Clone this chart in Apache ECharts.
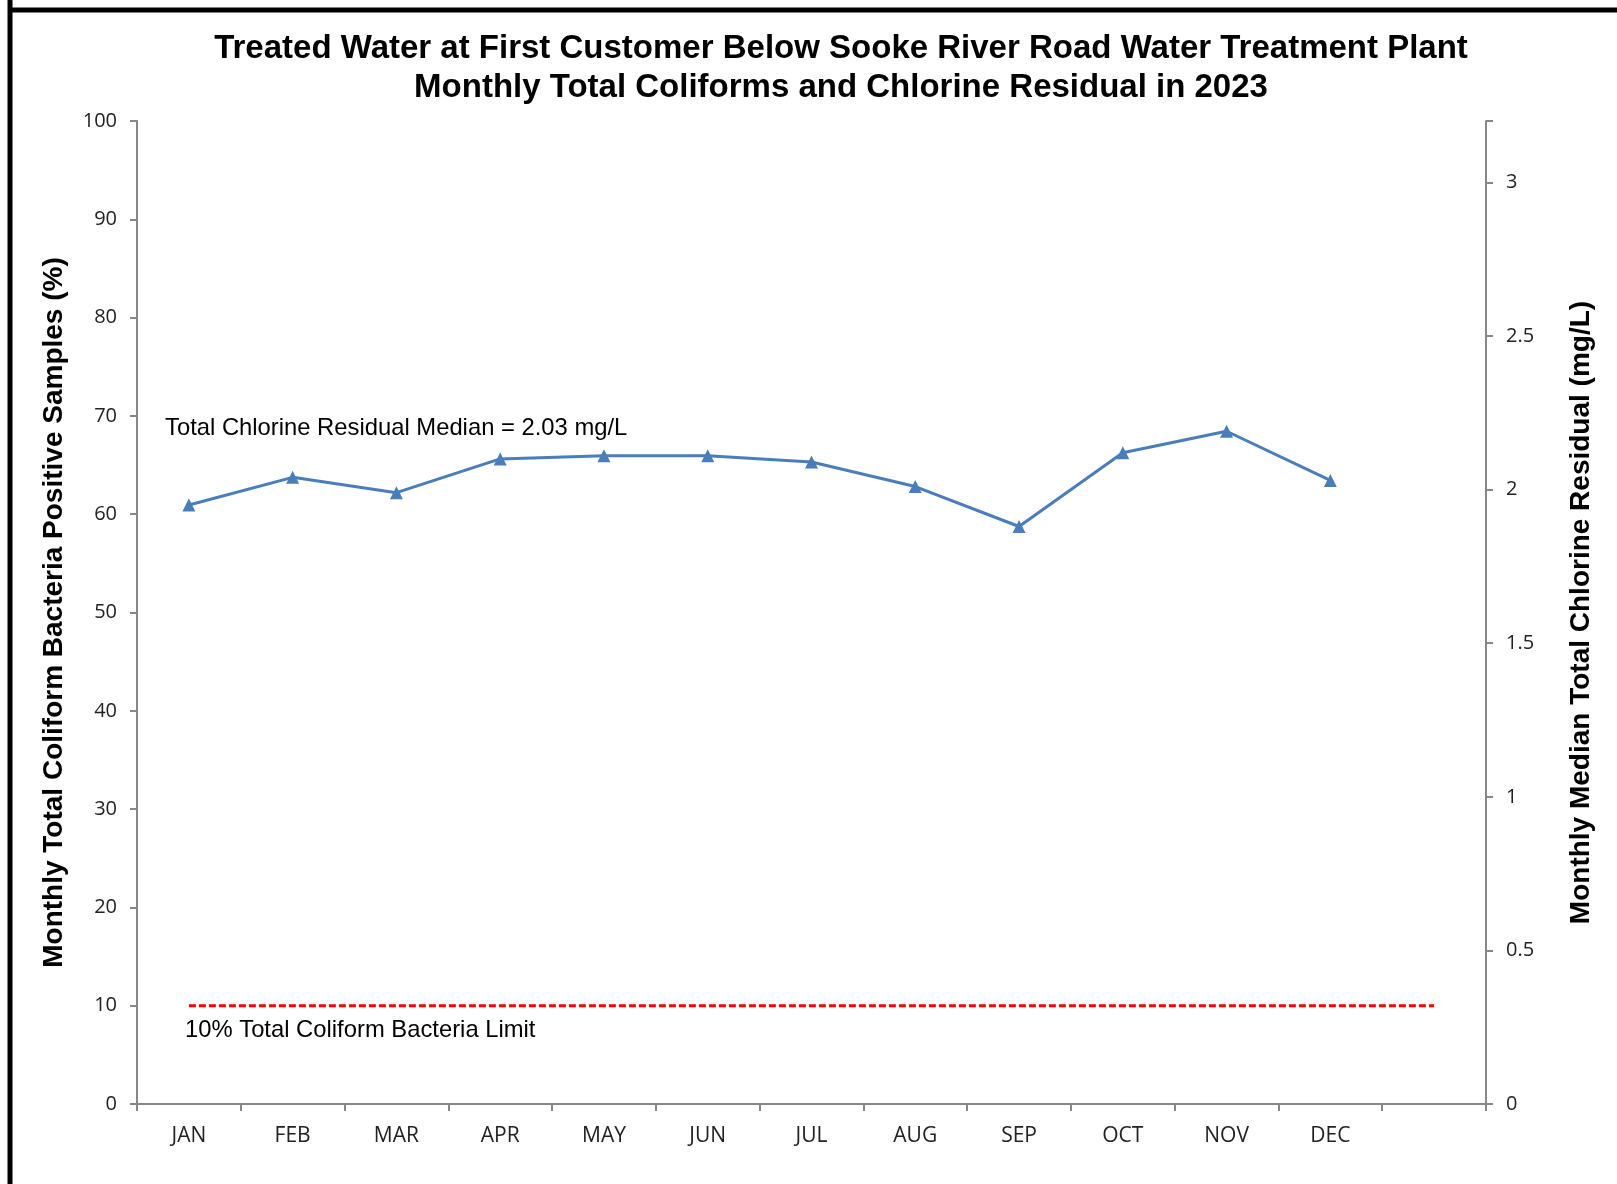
<!DOCTYPE html>
<html>
<head>
<meta charset="utf-8">
<script src="https://cdn.jsdelivr.net/npm/echarts@6/dist/echarts.min.js"></script>
<style>
html,body{margin:0;padding:0;background:#fff;}
#chart{width:1617px;height:1184px;}
</style>
</head>
<body>
<div id="chart"></div>
<script>
const months = ['JAN','FEB','MAR','APR','MAY','JUN','JUL','AUG','SEP','OCT','NOV','DEC',''];
const chlorineMedian = [1.95, 2.04, 1.99, 2.10, 2.11, 2.11, 2.09, 2.01, 1.88, 2.12, 2.19, 2.03];
const coliformLimit = [10, 10, 10, 10, 10, 10, 10, 10, 10, 10, 10, 10, 10];
const titleLines = ['Treated Water at First Customer Below Sooke River Road Water Treatment Plant',
                    'Monthly Total Coliforms and Chlorine Residual in 2023'];
const leftAxisName = 'Monthly Total Coliform Bacteria Positive Samples (%)';
const rightAxisName = 'Monthly Median Total Chlorine Residual (mg/L)';
const medianNote = 'Total Chlorine Residual Median = 2.03 mg/L';
const limitNote = '10% Total Coliform Bacteria Limit';

const chart = echarts.init(document.getElementById('chart'), null, {renderer:'canvas'});
const axisLineStyle = {color:'#878787', width:2};
const tickFont = {fontFamily:'Open Sans', fontSize:20, color:'#222'};
chart.setOption({
  animation:false,
  backgroundColor:'#fff',
  title:{
    text: titleLines.join('\n'),
    left: 836, top: 24, textAlign:'center',
    textStyle:{fontFamily:'Liberation Sans', fontWeight:'bold', fontSize:33, lineHeight:39, color:'#000'}
  },
  grid:{left:137, right:131, top:121, bottom:80, containLabel:false},
  xAxis:{
    type:'category', data: months, boundaryGap:true,
    axisLine:{lineStyle:axisLineStyle},
    axisTick:{show:true, length:7, lineStyle:axisLineStyle, alignWithLabel:false},
    axisLabel:Object.assign({margin:22}, tickFont, {fontSize:21}),
    splitLine:{show:false}
  },
  yAxis:[{
    type:'value', min:0, max:100, interval:10, position:'left',
    name:leftAxisName, nameLocation:'middle', nameGap:69, nameRotate:90,
    nameTextStyle:{fontFamily:'Liberation Sans', fontWeight:'bold', fontSize:28, color:'#000'},
    axisLine:{show:true, lineStyle:axisLineStyle},
    axisTick:{show:true, length:7, lineStyle:axisLineStyle},
    axisLabel:Object.assign({margin:20}, tickFont),
    splitLine:{show:false}
  },{
    type:'value', min:0, max:3.2, interval:0.5, position:'right',
    name:rightAxisName, nameLocation:'middle', nameGap:81, nameRotate:90,
    nameTextStyle:{fontFamily:'Liberation Sans', fontWeight:'bold', fontSize:28, color:'#000'},
    axisLine:{show:true, lineStyle:axisLineStyle},
    axisTick:{show:true, length:7, lineStyle:axisLineStyle},
    axisLabel:Object.assign({margin:20, formatter:v => (Math.abs(v-3.2)<1e-9 ? '' : String(v))}, tickFont),
    splitLine:{show:false}
  }],
  series:[{
    name:'Chlorine', type:'line', yAxisIndex:1, data:chlorineMedian,
    symbol:'triangle', symbolSize:13, showAllSymbol:true,
    lineStyle:{color:'#4A7EBB', width:3},
    itemStyle:{color:'#4A7EBB'}
  },{
    name:'Limit', type:'line', yAxisIndex:0, data:coliformLimit,
    symbol:'none',
    lineStyle:{color:'#FF0000', width:3, type:[7,3]}
  }],
  graphic:[
    {type:'text', left:165, top:416, style:{text:medianNote, fontFamily:'Liberation Sans', fontSize:23.8, fill:'#000'}},
    {type:'text', left:185, top:1018, style:{text:limitNote, fontFamily:'Liberation Sans', fontSize:23.8, fill:'#000'}},
    {type:'line', shape:{x1:10, y1:0, x2:10, y2:1184}, style:{stroke:'#000', lineWidth:5}},
    {type:'line', shape:{x1:8, y1:10, x2:1617, y2:10}, style:{stroke:'#000', lineWidth:5}}
  ]
});
</script>
</body>
</html>
